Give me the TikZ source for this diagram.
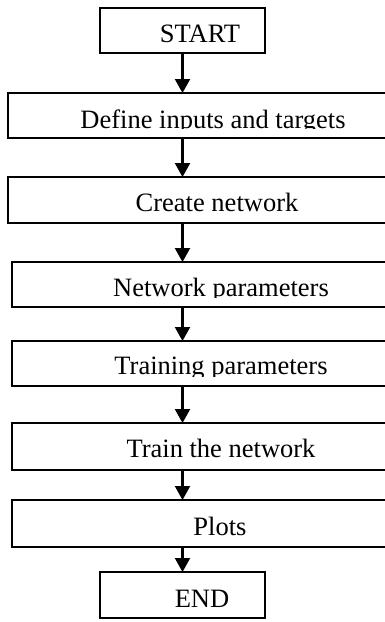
\documentclass[tikz,border=0pt]{standalone}
\usepackage{fontspec}
\setmainfont{Liberation Serif}
\usetikzlibrary{arrows.meta}
\tikzset{
  box/.style={draw=black, line width=1.5pt, anchor=north west, inner sep=0pt, outer sep=0pt, minimum height=#1},
  lbl/.style={anchor=base, inner sep=0pt, font=\fontsize{26.5}{30}\selectfont},
  arr/.style={line width=2.2pt, -{Triangle[width=15pt,length=14pt]}}
}
\begin{document}
\begin{tikzpicture}[x=1pt,y=-1pt]
\useasboundingbox (0,0) rectangle (385,622);
\clip (0,0) rectangle (385,622);
% boxes
\node[box=45pt, minimum width=165pt] (b1) at (100,8) {};
\node[box=45pt, minimum width=400pt] (b2) at (8,93) {};
\node[box=46pt, minimum width=400pt] (b3) at (8,177) {};
\node[box=45pt, minimum width=400pt] (b4) at (12,262) {};
\node[box=45pt, minimum width=400pt] (b5) at (12,341) {};
\node[box=47pt, minimum width=400pt] (b6) at (12,423) {};
\node[box=47pt, minimum width=400pt] (b7) at (12,500) {};
\node[box=46pt, minimum width=165pt] (b8) at (100,572) {};
% texts
\node[lbl] (t1) at (200,42) {START};
\begin{scope}
\clip (b2.north west) rectangle ([yshift=10pt]b2.south east);
\node[lbl] (t2) at (213,128) {Define inputs and targets};
\end{scope}
\node[lbl] (t3) at (217,211) {Create network};
\begin{scope}
\clip (b4.north west) rectangle ([yshift=10pt]b4.south east);
\node[lbl] (t4) at (221,296) {Network parameters};
\end{scope}
\begin{scope}
\clip (b5.north west) rectangle ([yshift=10pt]b5.south east);
\node[lbl] (t5) at (221,374) {Training parameters};
\end{scope}
\node[lbl] (t6) at (221,457) {Train the network};
\node[lbl] (t7) at (220,535) {Plots};
\node[lbl] (t8) at (202,607) {END};
% arrows
\draw[arr] (b1.south) -- (b2.north -| b1.south);
\draw[arr] (b2.south -| b1.south) -- (b3.north -| b1.south);
\draw[arr] (b3.south -| b1.south) -- (b4.north -| b1.south);
\draw[arr] (b4.south -| b1.south) -- (b5.north -| b1.south);
\draw[arr] (b5.south -| b1.south) -- (b6.north -| b1.south);
\draw[arr] (b6.south -| b1.south) -- (b7.north -| b1.south);
\draw[arr] (b7.south -| b1.south) -- (b8.north);
\end{tikzpicture}
\end{document}
